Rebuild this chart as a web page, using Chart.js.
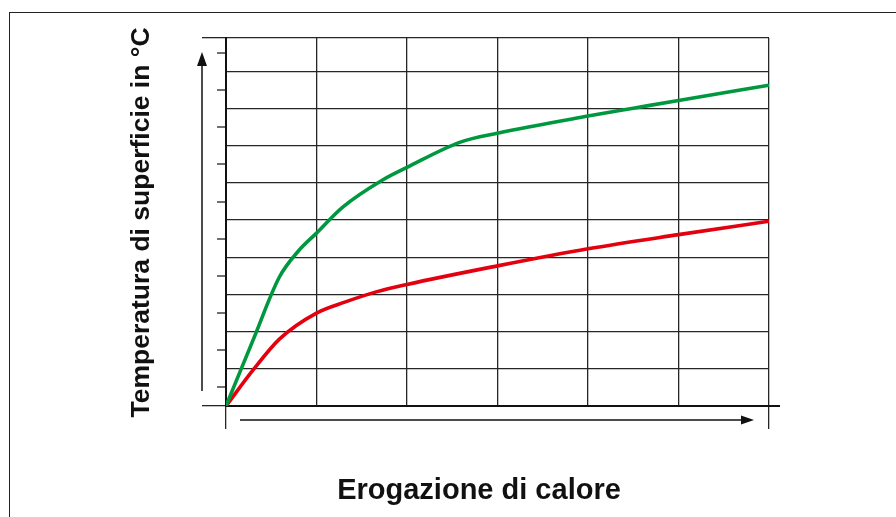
<!DOCTYPE html>
<html><head><meta charset="utf-8">
<script src="https://cdn.jsdelivr.net/npm/chart.js@4/dist/chart.umd.min.js"></script>
<style>
html,body{margin:0;padding:0;background:#fff;}
#wrap{position:relative;width:896px;height:517px;overflow:hidden;}
canvas{position:absolute;left:0;top:0;}
#frame{position:absolute;left:9px;top:12px;width:900px;height:520px;border-top:1.5px solid #222;border-left:1.5px solid #222;pointer-events:none;}
</style></head><body>
<div id="wrap"><canvas id="c" width="896" height="517"></canvas><div id="frame"></div></div>
<script>
// ---- data ----
const xTicks = [0, 1, 2, 3, 4, 5, 6];
const yTicks = [0, 1, 2, 3, 4, 5, 6, 7, 8, 9];
const yMinorTicks = [0.5, 1.5, 2.5, 3.5, 4.5, 5.5, 6.5, 7.5, 8.5, 9.5];
const yTop = 9.9;
const greenX = [0, 0.3, 0.59, 0.8, 1.0, 1.29, 1.73, 2.0, 2.59, 3.0, 4.0, 4.5, 5.0, 6.0];
const greenY = [0, 1.78, 3.47, 4.17, 4.65, 5.35, 6.08, 6.42, 7.10, 7.34, 7.80, 8.01, 8.22, 8.63];
const redX = [0, 0.3, 0.59, 1.0, 1.32, 1.66, 2.0, 3.0, 4.0, 5.0, 6.0];
const redY = [0, 0.97, 1.80, 2.50, 2.80, 3.07, 3.27, 3.77, 4.23, 4.61, 4.97];
const yTitle = 'Temperatura di superficie in °C';
const xTitle = 'Erogazione di calore';

const pts = (xs, ys) => xs.map((x, i) => ({x: x, y: ys[i]}));
const dark = '#262626';
const clear = 'rgba(0,0,0,0)';

const deco = {
  id: 'deco',
  afterDraw(chart) {
    const {ctx, chartArea: a, scales: {x, y}} = chart;
    const y0 = y.getPixelForValue(0);
    ctx.save();
    ctx.strokeStyle = '#111';
    ctx.fillStyle = '#111';
    // x-axis extension to the right
    ctx.lineWidth = 2;
    ctx.beginPath(); ctx.moveTo(a.right, y0); ctx.lineTo(a.right + 11, y0); ctx.stroke();
    // y arrow
    const ax = a.left - 24;
    ctx.lineWidth = 1.5;
    ctx.beginPath(); ctx.moveTo(ax, y0 - 15); ctx.lineTo(ax, a.top + 24); ctx.stroke();
    ctx.beginPath(); ctx.moveTo(ax, a.top + 14); ctx.lineTo(ax - 5, a.top + 28); ctx.lineTo(ax + 5, a.top + 28); ctx.closePath(); ctx.fill();
    // x arrow
    const ay = y0 + 14;
    ctx.beginPath(); ctx.moveTo(a.left + 14, ay); ctx.lineTo(a.right - 25, ay); ctx.stroke();
    ctx.beginPath(); ctx.moveTo(a.right - 15, ay); ctx.lineTo(a.right - 28, ay - 4.5); ctx.lineTo(a.right - 28, ay + 4.5); ctx.closePath(); ctx.fill();
    // titles
    ctx.fillStyle = '#111';
    ctx.textAlign = 'center';
    ctx.textBaseline = 'alphabetic';
    ctx.font = 'bold 26.5px "Liberation Sans", Arial, Helvetica, sans-serif';
    ctx.save();
    ctx.translate(149, (a.top + y0) / 2 + 0.5);
    ctx.rotate(-Math.PI / 2);
    ctx.fillText(yTitle, 0, 0);
    ctx.restore();
    ctx.font = 'bold 29px "Liberation Sans", Arial, Helvetica, sans-serif';
    ctx.fillText(xTitle, 479, 499);
    ctx.restore();
  }
};

new Chart(document.getElementById('c'), {
  type: 'line',
  data: {
    datasets: [
      {data: pts(greenX, greenY), borderColor: '#00983f', borderWidth: 3.6, pointRadius: 0, cubicInterpolationMode: 'monotone', fill: false},
      {data: pts(redX, redY), borderColor: '#e3000f', borderWidth: 3.6, pointRadius: 0, cubicInterpolationMode: 'monotone', fill: false}
    ]
  },
  options: {
    responsive: false,
    animation: false,
    events: [],
    layout: {padding: {left: 0, right: 127, top: 38, bottom: 0}},
    plugins: {legend: {display: false}, tooltip: {enabled: false}},
    scales: {
      x: {
        type: 'linear', min: 0, max: 6,
        afterBuildTicks: s => { s.ticks = xTicks.map(v => ({value: v})); },
        afterFit: s => { s.height = 111; },
        ticks: {display: false},
        grid: {color: dark, lineWidth: 1.3, tickLength: 23,
               tickColor: c => (c.index === 0 || c.index === xTicks.length - 1) ? dark : clear},
        border: {display: true, color: '#111', width: 2}
      },
      y: {
        type: 'linear', position: 'left', weight: 1, min: 0, max: yTop,
        afterBuildTicks: s => { s.ticks = yTicks.concat([yTop]).map(v => ({value: v})); },
        afterFit: s => { s.width = 226; },
        ticks: {display: false},
        grid: {color: dark, lineWidth: 1.3, tickLength: 24,
               tickColor: c => (c.index === 0 || c.index === yTicks.length) ? dark : clear},
        border: {display: true, color: '#111', width: 2}
      },
      y2: {
        type: 'linear', position: 'left', weight: 0, min: 0, max: yTop,
        afterBuildTicks: s => { s.ticks = yMinorTicks.map(v => ({value: v})); },
        afterFit: s => { s.width = 0; },
        ticks: {display: false},
        grid: {drawOnChartArea: false, tickLength: 9, tickColor: '#707070', lineWidth: 2},
        border: {display: false}
      }
    }
  },
  plugins: [deco]
});
</script>
</body></html>
